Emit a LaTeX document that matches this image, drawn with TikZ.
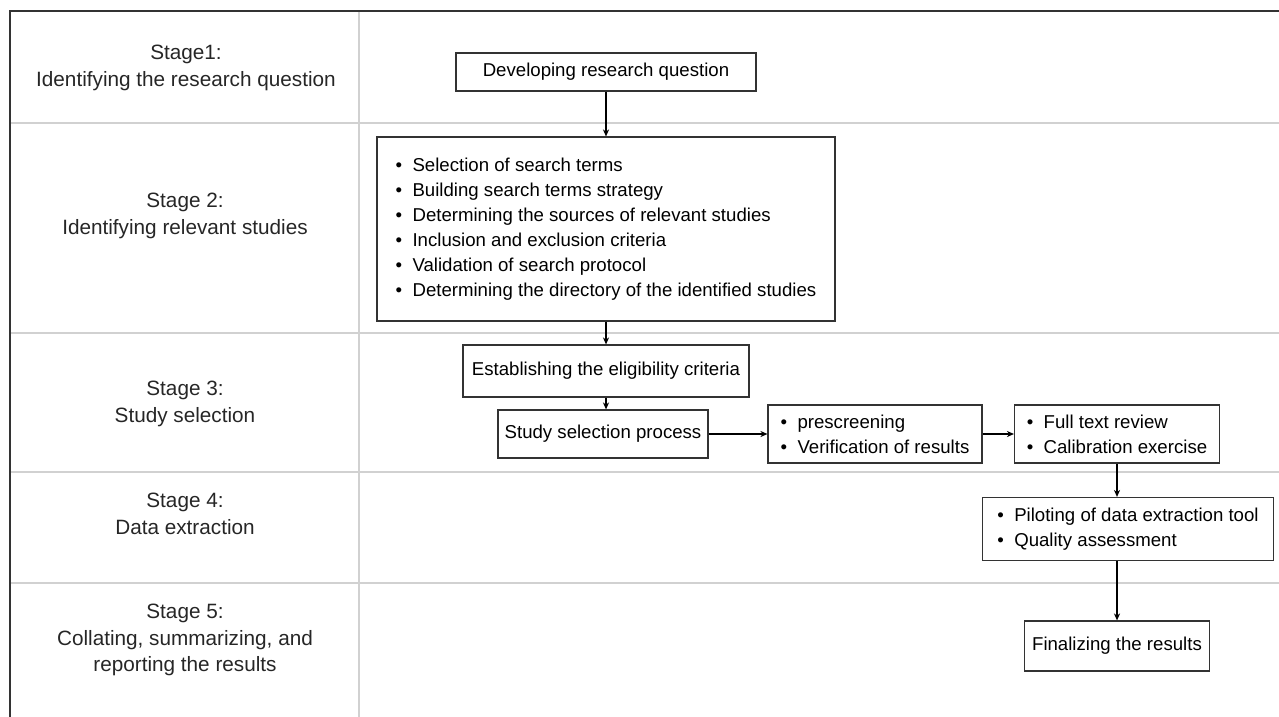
\documentclass[tikz,border=0pt]{standalone}
\usepackage{fontspec}
\setmainfont{Liberation Sans}
\usetikzlibrary{arrows.meta, calc}

\tikzset{
  box/.style={draw=black!80, line width=0.7pt, fill=white, align=left,
    inner sep=0pt, font=\fontsize{10.6}{14.3}\selectfont},
  stagelbl/.style={align=center, font=\fontsize{11.8}{15.3}\selectfont, text=black!85},
  lane/.style={draw=black!18, line width=0.9pt},
  flow/.style={-{Stealth[length=4pt, width=3.5pt]}, line width=0.6pt},
}

\begin{document}
\begin{tikzpicture}[x=0.02cm, y=-0.02cm]
  \useasboundingbox (0,0) rectangle (1279,717);

  % swimlanes
  \foreach \y in {123, 333, 472, 583}
    \draw[lane] (10,\y) -- (1279,\y);
  \draw[lane] (359,11) -- (359,717);
  \draw[black!80, line width=1.1pt] (10,717) -- (10,11) -- (1279,11);

  % stage labels
  \node[stagelbl] (s1) at (186,68) {Stage1:\\Identifying the research question};
  \node[stagelbl] (s2) at (185,216) {Stage 2:\\Identifying relevant studies};
  \node[stagelbl] (s3) at (185,404) {Stage 3:\\Study selection};
  \node[stagelbl] (s4) at (185,514) {Stage 4:\\Data extraction};
  \node[stagelbl] (s5) at (185,640) {Stage 5:\\Collating, summarizing, and\\reporting the results};

  % boxes
  \node[box, minimum width=6cm, minimum height=0.76cm] (dev) at (606,72)
    {Developing research question};
  \node[box, minimum width=9.16cm, minimum height=3.68cm] (terms) at (606,229)
    {\textbullet\ \ Selection of search terms\\
     \textbullet\ \ Building search terms strategy\\
     \textbullet\ \ Determining the sources of relevant studies\\
     \textbullet\ \ Inclusion and exclusion criteria\\
     \textbullet\ \ Validation of search protocol\\
     \textbullet\ \ Determining the directory of the identified studies};
  \node[box, minimum width=5.72cm, minimum height=1.04cm] (elig) at (606,371)
    {Establishing the eligibility criteria};
  \node[box, minimum width=4.2cm, minimum height=0.96cm] (ssp) at (603,434)
    {Study selection process};
  \node[box, minimum width=4.28cm, minimum height=1.16cm] (pre) at (875,434)
    {\textbullet\ \ prescreening\\ \textbullet\ \ Verification of results};
  \node[box, minimum width=4.1cm, minimum height=1.16cm] (full) at (1117,434)
    {\textbullet\ \ Full text review\\ \textbullet\ \ Calibration exercise};
  \node[box, minimum width=5.82cm, minimum height=1.26cm] (pilot) at (1128,529)
    {\textbullet\ \ Piloting of data extraction tool\\ \textbullet\ \ Quality assessment};
  \node[box, minimum width=3.7cm, minimum height=1.0cm] (final) at (1117,646)
    {Finalizing the results};

  % connectors
  \draw[flow] (dev.south) -- (dev.south |- terms.north);
  \draw[flow] (terms.south) -- (terms.south |- elig.north);
  \draw[flow] (elig.south) -- (elig.south |- ssp.north);
  \draw[flow] (ssp.east) -- (pre.west |- ssp.east);
  \draw[flow] (pre.east) -- (full.west |- pre.east);
  \draw[flow] (full.south) -- (full.south |- pilot.north);
  \draw[flow] (full.south |- pilot.south) -- (full.south |- final.north);
\end{tikzpicture}
\end{document}
